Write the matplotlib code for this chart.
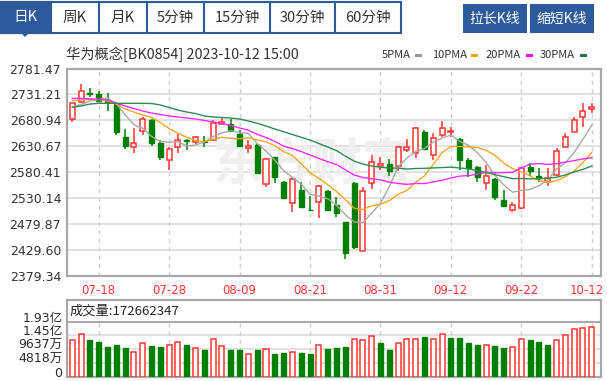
import numpy as np
import matplotlib
matplotlib.use('Agg')
import matplotlib.pyplot as plt
from matplotlib.patches import Rectangle, Polygon
from matplotlib.transforms import blended_transform_factory, ScaledTranslation

plt.rcParams['font.family'] = ['DejaVu Sans', 'Noto Sans CJK SC']
CJK = ['Noto Sans CJK SC', 'DejaVu Sans']

# ---- data ----
dates = ['07-13', '07-14', '07-17', '07-18', '07-19', '07-20', '07-21', '07-24', '07-25', '07-26',
         '07-27', '07-28', '07-31', '08-01', '08-02', '08-03', '08-04', '08-07', '08-08', '08-09',
         '08-10', '08-11', '08-14', '08-15', '08-16', '08-17', '08-18', '08-21', '08-22', '08-23',
         '08-24', '08-25', '08-28', '08-29', '08-30', '08-31', '09-01', '09-04', '09-05', '09-06',
         '09-07', '09-08', '09-11', '09-12', '09-13', '09-14', '09-15', '09-18', '09-19', '09-20',
         '09-21', '09-22', '09-25', '09-26', '09-27', '09-28', '10-09', '10-10', '10-11', '10-12']

opens = [2683.6, 2717.1, 2734.0, 2733.0, 2719.4, 2712.6, 2649.3, 2628.4, 2661.3, 2681.6,
         2638.0, 2605.1, 2628.7, 2642.9, 2639.6, 2640.4, 2642.9, 2673.9, 2673.9, 2654.5,
         2626.8, 2633.2, 2557.6, 2609.4, 2562.1, 2521.4, 2546.0, 2508.2, 2523.3, 2545.0,
         2516.9, 2483.4, 2560.1, 2428.3, 2560.1, 2592.5, 2596.4, 2592.5, 2623.5, 2618.3,
         2659.0, 2613.8, 2652.6, 2658.4, 2644.2, 2604.1, 2590.0, 2559.0, 2566.7, 2526.6,
         2507.2, 2510.5, 2591.1, 2573.1, 2562.1, 2575.1, 2628.7, 2659.0, 2686.9, 2703.5]
highs = [2715.2, 2750.8, 2743.1, 2737.8, 2733.4, 2714.6, 2663.6, 2665.6, 2688.4, 2683.6,
         2643.8, 2628.7, 2654.5, 2644.8, 2650.6, 2650.6, 2681.6, 2684.9, 2683.0, 2662.3,
         2642.9, 2635.1, 2608.0, 2610.5, 2563.4, 2571.8, 2562.1, 2534.4, 2555.7, 2546.0,
         2533.0, 2484.0, 2561.5, 2551.2, 2613.8, 2610.5, 2605.5, 2631.3, 2644.8, 2668.1,
         2662.3, 2655.9, 2679.7, 2668.7, 2646.2, 2607.4, 2592.5, 2594.4, 2568.6, 2546.0,
         2522.7, 2589.6, 2597.7, 2588.0, 2588.0, 2626.8, 2655.9, 2688.0, 2715.2, 2714.0]
lows = [2678.3, 2715.2, 2727.2, 2717.1, 2699.7, 2652.6, 2625.4, 2617.7, 2652.6, 2632.2,
        2604.1, 2583.8, 2618.3, 2623.5, 2636.1, 2628.7, 2640.9, 2673.9, 2659.0, 2630.3,
        2618.3, 2577.0, 2551.2, 2560.1, 2529.5, 2503.9, 2513.0, 2505.3, 2491.1, 2505.3,
        2494.2, 2411.7, 2431.1, 2427.8, 2547.3, 2584.7, 2573.1, 2583.4, 2620.2, 2607.4,
        2623.5, 2604.1, 2648.1, 2649.3, 2584.7, 2570.6, 2562.1, 2546.0, 2526.6, 2513.6,
        2503.3, 2509.2, 2573.1, 2562.1, 2553.7, 2574.1, 2628.3, 2658.4, 2668.7, 2694.6]
closes = [2714.0, 2738.4, 2732.6, 2717.9, 2717.5, 2658.4, 2631.3, 2637.6, 2683.0, 2638.0,
          2609.9, 2624.5, 2642.9, 2640.9, 2648.7, 2639.0, 2676.4, 2678.3, 2660.9, 2631.3,
          2632.0, 2578.3, 2605.5, 2571.8, 2529.9, 2566.7, 2513.6, 2506.3, 2553.7, 2506.3,
          2502.0, 2423.3, 2436.1, 2544.6, 2600.8, 2596.4, 2583.4, 2628.7, 2629.5, 2665.6,
          2624.9, 2646.2, 2665.6, 2660.3, 2604.1, 2588.0, 2571.8, 2573.1, 2533.0, 2515.0,
          2516.0, 2588.0, 2583.4, 2570.6, 2568.6, 2622.2, 2649.3, 2681.6, 2699.7, 2706.2]

ma5 = [2707.4, 2711.7, 2718.5, 2721.4, 2724.1, 2713.0, 2691.5, 2672.5, 2665.6, 2649.7,
       2640.0, 2638.6, 2639.7, 2631.2, 2633.4, 2639.2, 2649.6, 2656.7, 2660.7, 2657.2,
       2655.7, 2636.1, 2621.6, 2603.7, 2583.5, 2570.4, 2557.5, 2537.7, 2534.0, 2529.3,
       2516.4, 2498.3, 2484.3, 2482.5, 2501.4, 2520.2, 2552.3, 2590.8, 2607.8, 2620.8,
       2626.5, 2639.0, 2646.4, 2652.5, 2640.2, 2632.8, 2618.0, 2599.5, 2574.0, 2556.2,
       2541.8, 2545.0, 2547.1, 2554.6, 2565.3, 2586.6, 2598.8, 2618.5, 2644.3, 2671.8]
ma10 = [2719.0, 2720.4, 2721.4, 2721.4, 2718.5, 2712.6, 2703.0, 2697.1, 2691.3, 2686.9,
        2676.5, 2665.1, 2656.1, 2648.4, 2641.6, 2639.6, 2644.1, 2648.2, 2646.0, 2645.3,
        2647.4, 2642.8, 2639.1, 2632.2, 2620.3, 2613.0, 2596.8, 2579.6, 2568.8, 2556.4,
        2543.4, 2527.9, 2511.0, 2508.3, 2515.4, 2518.3, 2525.3, 2537.6, 2545.1, 2561.0,
        2573.3, 2595.6, 2618.5, 2630.1, 2630.4, 2629.6, 2628.4, 2622.9, 2613.3, 2598.2,
        2587.3, 2581.5, 2573.3, 2564.3, 2560.8, 2564.2, 2571.9, 2582.8, 2599.5, 2618.6]
ma20 = [2723.7, 2723.3, 2722.7, 2721.8, 2720.4, 2714.6, 2708.8, 2703.9, 2699.1, 2695.2,
        2692.3, 2689.4, 2687.5, 2685.5, 2683.6, 2680.7, 2677.8, 2674.9, 2671.0, 2666.1,
        2662.0, 2654.0, 2647.6, 2640.3, 2631.0, 2626.3, 2620.5, 2613.9, 2607.4, 2600.9,
        2595.4, 2585.4, 2575.1, 2570.3, 2567.9, 2565.7, 2561.1, 2558.6, 2557.0, 2558.7,
        2558.4, 2561.8, 2564.8, 2569.2, 2572.9, 2574.0, 2576.9, 2580.3, 2579.2, 2579.6,
        2580.3, 2588.6, 2595.9, 2597.2, 2595.6, 2596.9, 2600.2, 2602.9, 2606.4, 2608.4]
ma30 = [2706.3, 2708.8, 2712.6, 2714.0, 2714.0, 2714.0, 2714.0, 2714.0, 2714.0, 2713.6,
        2710.7, 2705.9, 2701.0, 2697.1, 2694.2, 2689.4, 2687.5, 2686.5, 2685.5, 2683.6,
        2679.7, 2675.2, 2670.0, 2664.2, 2659.0, 2653.5, 2648.1, 2642.9, 2636.1, 2629.5,
        2622.4, 2611.9, 2602.1, 2596.3, 2592.4, 2590.3, 2588.7, 2588.5, 2586.6, 2587.6,
        2588.0, 2588.8, 2589.5, 2590.2, 2588.7, 2587.0, 2583.5, 2580.0, 2575.7, 2571.9,
        2568.0, 2568.3, 2567.6, 2567.6, 2568.9, 2570.7, 2575.2, 2581.1, 2586.0, 2592.6]

volumes = [128500000, 148300000, 128500000, 120300000, 104000000, 112100000, 100400000, 86400000, 119100000, 108600000,
           104000000, 112100000, 122600000, 112100000, 99300000, 92300000, 133200000, 107500000, 92300000, 92300000,
           78300000, 92300000, 95800000, 79400000, 82900000, 86400000, 82900000, 79400000, 111000000, 95800000,
           99300000, 104000000, 133200000, 128500000, 141300000, 116800000, 92300000, 116800000, 133200000, 133200000,
           137800000, 133200000, 149500000, 134300000, 134300000, 116800000, 112100000, 112100000, 108600000, 99300000,
           102800000, 133200000, 129600000, 120300000, 112100000, 128500000, 144800000, 165900000, 169400000, 172662347]

price_ticks = [2379.34, 2429.60, 2479.87, 2530.14, 2580.41, 2630.67, 2680.94, 2731.21, 2781.47]
vol_ticks = [0, 48180000, 96370000, 144550000, 192730000]
vol_tick_labels = ['0', '4818万', '9637万', '1.45亿', '1.93亿']
date_ticks = ['07-18', '07-28', '08-09', '08-21', '08-31', '09-12', '09-22', '10-12']
title = '华为概念[BK0854] 2023-10-12 15:00'
ma_names = ['5PMA', '10PMA', '20PMA', '30PMA']
tabs = ['日K', '周K', '月K', '5分钟', '15分钟', '30分钟', '60分钟']
buttons = ['拉长K线', '缩短K线']

RED = '#ff3333'
GREEN = '#007f00'
BLUE = '#2d5a9a'
GRID = '#dcdcdc'
FRAME = '#a8a8a8'
MA_COLORS = ['#a8a8a8', '#f5a623', '#ff2bff', '#2e8b57']
LEGEND_COLORS = ['#9a9a9a', '#f0a020', '#ff00ff', '#1b7a3e']

W, H = 607, 381
fig = plt.figure(figsize=(W / 100, H / 100), dpi=100)

# overlay in pixel coords for the page furniture
ov = fig.add_axes([0, 0, 1, 1], zorder=0)
ov.set_xlim(0, W)
ov.set_ylim(H, 0)
ov.axis('off')

L, R = 66.7, 600.7
TOP, BOT = 68.5, 276.0
ax = fig.add_axes([L / W, 1 - BOT / H, (R - L) / W, (BOT - TOP) / H], zorder=1)
VHDR, VSEP, VBOT = 300.0, 321.7, 376.7
axv = fig.add_axes([L / W, 1 - VBOT / H, (R - L) / W, (VBOT - VHDR) / H], zorder=1)

x = np.arange(len(dates))
o = np.array(opens); c = np.array(closes)
h = np.array(highs); lo = np.array(lows)
up = c >= o
tick_pos = [dates.index(d) for d in date_ticks]
xlim = (-0.64, 60.02)
bw = 0.57

# ---- price panel ----
ax.set_xlim(*xlim)
ax.set_ylim(price_ticks[0], price_ticks[-1])
for v in price_ticks[1:-1]:
    ax.axhline(v, color=GRID, lw=1.2, zorder=0)
for p in tick_pos:
    ax.axvline(p, color='#cfcfcf', lw=1, ls=(0, (3, 3)), zorder=0)

ax.text(0.46, 0.53, '东方财富', transform=ax.transAxes, ha='center', va='center',
        fontsize=36, color='#efefef', fontweight='bold', family=CJK, zorder=0.5)

ax.vlines(x[up], lo[up], h[up], color=RED, lw=1.1, zorder=3)
ax.vlines(x[~up], lo[~up], h[~up], color=GREEN, lw=1.1, zorder=3)
body = np.maximum(np.abs(c - o), 0.6)
ax.bar(x[up], body[up], bottom=np.minimum(o, c)[up], width=bw, facecolor='white',
       edgecolor=RED, linewidth=1.1, zorder=4)
ax.bar(x[~up], body[~up], bottom=np.minimum(o, c)[~up], width=bw, facecolor=GREEN,
       edgecolor=GREEN, linewidth=1.0, zorder=4)

for series, col in zip([ma5, ma10, ma20, ma30], MA_COLORS):
    ax.plot(x, series, color=col, lw=1.0, zorder=5)

ax.set_yticks(price_ticks)
ax.set_yticklabels([f'{v:.2f}' for v in price_ticks], fontsize=9, color='#333333')
ax.set_xticks(tick_pos)
ax.set_xticklabels(date_ticks, fontsize=8.5, color=RED)
ax.tick_params(axis='y', length=0, pad=4)
ax.tick_params(axis='x', length=0, pad=6)
last = ax.get_xticklabels()[-1]
last.set_transform(last.get_transform() + ScaledTranslation(-3.5 / 72, 0, fig.dpi_scale_trans))
for s in ax.spines.values():
    s.set_color(FRAME)
    s.set_linewidth(1.6)

# ---- volume panel ----
vtop = vol_ticks[-1]
axv.set_xlim(*xlim)
axv.set_ylim(0, vtop * (VBOT - VHDR) / (VBOT - VSEP))
for v in vol_ticks[1:-1]:
    axv.axhline(v, color=GRID, lw=1.2, zorder=0)
axv.axhline(vtop, color=FRAME, lw=1.4, zorder=1)
for p in tick_pos:
    axv.plot([p, p], [0, vtop], color='#cfcfcf', lw=1, ls=(0, (3, 3)), zorder=0)
vol = np.array(volumes)
vup = np.concatenate([[closes[0] >= opens[0]], c[1:] >= c[:-1]])
axv.bar(x[vup], vol[vup], width=bw, facecolor='white', edgecolor=RED, linewidth=1.1, zorder=3)
axv.bar(x[~vup], vol[~vup], width=bw, facecolor=GREEN, edgecolor=GREEN, linewidth=1.0, zorder=3)
axv.set_xticks([])
axv.set_yticks([])
tr = blended_transform_factory(axv.transAxes, axv.transData)
for v, lab in zip(vol_ticks, vol_tick_labels):
    axv.text(-0.008, v, lab, transform=tr, ha='right', va='baseline', fontsize=9,
             color='#2a2a2a', family=['DejaVu Sans', 'Noto Sans CJK SC'])
axv.text(0.006, (vtop + axv.get_ylim()[1]) / 2, '成交量:%d' % volumes[-1], transform=tr,
         ha='left', va='center', fontsize=9.5, color='#222222', family=CJK)
for s in axv.spines.values():
    s.set_color(FRAME)
    s.set_linewidth(1.6)

# ---- header line: title + MA legend ----
ov.text(66, 54.5, title, ha='left', va='center', fontsize=10.3, color='#333333', family=CJK)
leg_x = [382, 432, 486, 540]
dash_x = [415, 471, 526, 580]
for name, lx, dx, col in zip(ma_names, leg_x, dash_x, LEGEND_COLORS):
    ov.text(lx, 54.5, name, ha='left', va='center', fontsize=8, color='#333333', family=CJK)
    ov.add_patch(Rectangle((dx, 53.5), 7, 3, facecolor=col, edgecolor='none'))

# ---- tab bar ----
edges = [0.8, 50.5, 99, 147, 204, 270, 335, 400.5]
ov.add_patch(Rectangle((edges[0], 2), edges[-1] - edges[0], 30.5, facecolor='white',
                       edgecolor=BLUE, lw=1.5))
ov.add_patch(Rectangle((edges[0], 2), edges[1] - edges[0], 30.5, facecolor=BLUE, edgecolor=BLUE, lw=1.5))
ov.add_patch(Polygon([(20.5, 32.5), (29.5, 32.5), (25, 37)], closed=True, facecolor=BLUE, edgecolor='none'))
for e in edges[1:-1]:
    ov.plot([e, e], [2, 32.5], color=BLUE, lw=1.5)
for i, lab in enumerate(tabs):
    ov.text((edges[i] + edges[i + 1]) / 2, 17.5, lab, ha='center', va='center', fontsize=10.5,
            color='white' if i == 0 else '#333333', family=CJK)
for (bx0, bx1), lab in zip([(463, 526.5), (530, 594)], buttons):
    ov.add_patch(Rectangle((bx0, 4), bx1 - bx0, 29, facecolor=BLUE, edgecolor='none'))
    ov.text((bx0 + bx1) / 2, 18.5, lab, ha='center', va='center', fontsize=10, color='white', family=CJK)

fig.savefig('out.png', dpi=100, facecolor='white')
